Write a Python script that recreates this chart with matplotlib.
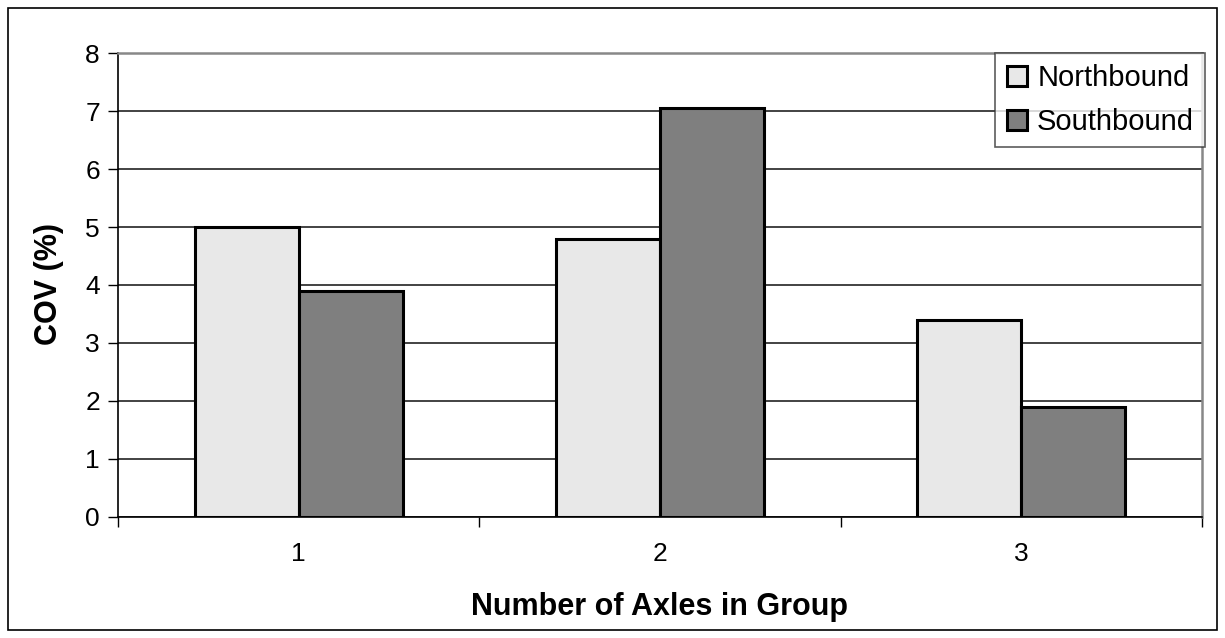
import numpy as np
import matplotlib.pyplot as plt
from matplotlib.patches import Rectangle

plt.rcParams['font.family'] = ['Liberation Sans', 'DejaVu Sans']

axle_groups = [1, 2, 3]
northbound = [5.0, 4.8, 3.4]
southbound = [3.9, 7.05, 1.9]
y_ticks = [0, 1, 2, 3, 4, 5, 6, 7, 8]

fig = plt.figure(figsize=(12.25, 6.38), dpi=100)
ax = fig.add_axes([0.0963, 0.1897, 0.8849, 0.7272])

x = np.array(axle_groups, dtype=float)
width = 0.288
ax.bar(x - width / 2, northbound, width, facecolor='#e8e8e8',
       edgecolor='black', linewidth=2.2, label='Northbound', zorder=3)
ax.bar(x + width / 2, southbound, width, facecolor='#7f7f7f',
       edgecolor='black', linewidth=2.2, label='Southbound', zorder=3)

ax.set_xlim(0.5, 3.5)
ax.set_ylim(0, 8)
ax.set_yticks(y_ticks)
ax.set_xticks(axle_groups)
ax.set_xticks([0.5, 1.5, 2.5, 3.5], minor=True)
ax.tick_params(axis='x', which='major', length=0, pad=18, labelsize=19)
ax.tick_params(axis='x', which='minor', length=7, direction='out', width=1)
ax.tick_params(axis='y', length=7, direction='out', width=1, labelsize=19, pad=6)
ax.yaxis.grid(True, color='#222222', linewidth=1.2)
ax.set_axisbelow(True)

for side in ('top', 'right'):
    ax.spines[side].set_color('#888888')
    ax.spines[side].set_linewidth(1.8)
for side in ('left', 'bottom'):
    ax.spines[side].set_color('black')
    ax.spines[side].set_linewidth(1.2)

ax.set_xlabel('Number of Axles in Group', fontsize=22, fontweight='bold')
ax.xaxis.set_label_coords(0.5, -0.1935)
ax.xaxis.label.set_verticalalignment('center')
ax.set_ylabel('COV (%)', fontsize=22, fontweight='bold')
ax.yaxis.set_label_coords(-0.0637, 0.502)
ax.yaxis.label.set_verticalalignment('center')

leg = ax.legend(loc='upper right', bbox_to_anchor=(1.003, 1.0), fontsize=21,
                frameon=True, fancybox=False, handlelength=0.7, handleheight=0.7,
                handletextpad=0.35, borderpad=0.38, labelspacing=0.55,
                borderaxespad=0)
leg.get_frame().set_edgecolor('#333333')
leg.get_frame().set_linewidth(1.2)
leg.set_zorder(5)

# outer chart border
fig.patches.append(Rectangle((0.0065, 0.0125), 0.987, 0.975, transform=fig.transFigure,
                             fill=False, edgecolor='black', linewidth=1.2))

fig.savefig('out.png', dpi=100)
